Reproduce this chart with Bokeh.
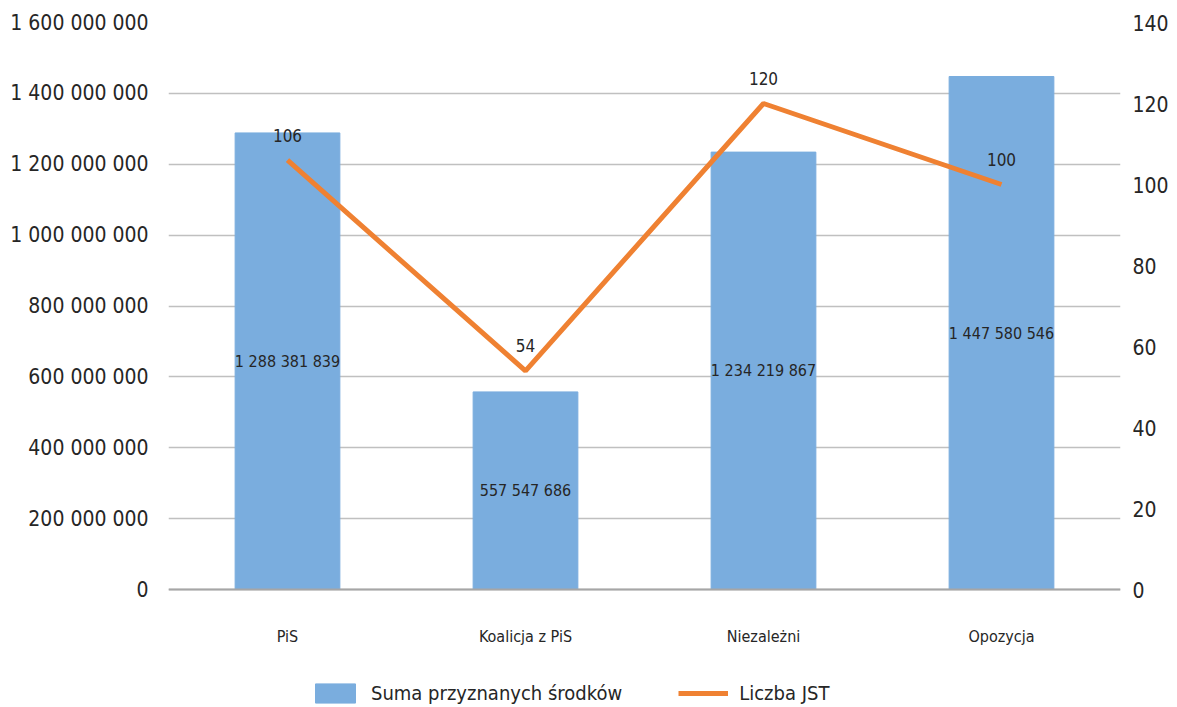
from bokeh.plotting import figure
from bokeh.models import (Range1d, LinearAxis, FixedTicker, CustomJSTickFormatter,
                          ColumnDataSource, Legend, LegendItem, FactorRange, Span)
from bokeh.core.properties import value
from bokeh.embed import file_html
from bokeh.resources import INLINE

categories = ["PiS", "Koalicja z PiS", "Niezależni", "Opozycja"]
sums = [1288381839, 557547686, 1234219867, 1447580546]
counts = [106, 54, 120, 100]
left_ticks = [0, 200000000, 400000000, 600000000, 800000000, 1000000000,
              1200000000, 1400000000, 1600000000]
right_ticks = [0, 20, 40, 60, 80, 100, 120, 140]
series_names = ["Suma przyznanych środków", "Liczba JST"]

FONT = "'DejaVu Sans Condensed', Roboto"
TXT = "#262626"
BAR = "#7aadde"
LINE = "#ef8132"
GRID = "#c0c0c0"

# layout (pixels): plot area from top=22 down to the zero line at 589,
# the frame continues below the zero line to hold category labels + legend
W = 1177
H = 707
TOP = 22
ZERO = 589
above = ZERO - TOP
below = H - ZERO
LMAX = left_ticks[-1]
RMAX = right_ticks[-1]

def fmt(v):
    return f"{v:,}".replace(",", " ")

src = ColumnDataSource(dict(
    cat=categories,
    sums=sums,
    half=[s / 2 for s in sums],
    sum_lbl=[fmt(s) for s in sums],
    counts=counts,
    cnt_lbl=[str(c) for c in counts],
    zero=[0] * len(categories),
))

p = figure(width=W, height=H, x_range=FactorRange(*categories),
           y_range=Range1d(-LMAX * below / above, LMAX), output_backend="svg",
           toolbar_location=None, y_axis_location=None,
           min_border_left=168, min_border_right=57, min_border_top=TOP,
           min_border_bottom=0)
p.extra_y_ranges = {"right": Range1d(-RMAX * below / above, RMAX)}
p.outline_line_color = None
p.background_fill_color = "white"
p.border_fill_color = "white"
p.x_range.range_padding = 0
p.xaxis.visible = False

p.ygrid.ticker = FixedTicker(ticks=left_ticks)
p.ygrid.grid_line_color = GRID
p.ygrid.grid_line_width = 1.5
p.xgrid.grid_line_color = None

bars = p.vbar(x="cat", top="sums", width=0.44, source=src, color=BAR)
p.add_layout(Span(location=0, dimension="width", line_color="#a6a6a6",
                  line_width=2))
line = p.line(x="cat", y="counts", source=src, y_range_name="right",
              color=LINE, line_width=5)

p.text(x="cat", y="half", text="sum_lbl", source=src, text_align="center",
       text_baseline="middle", text_font=value(FONT), text_font_size="16px",
       text_color=TXT)
p.text(x="cat", y="counts", text="cnt_lbl", source=src, y_range_name="right",
       text_align="center", text_baseline="middle", y_offset=-25,
       text_font=value(FONT), text_font_size="17px", text_color=TXT)
# category labels under the zero line
p.text(x="cat", y="zero", text="cat", source=src, text_align="center",
       text_baseline="middle", y_offset=47,
       text_font=value(FONT), text_font_size="16px", text_color=TXT)

fmt_js = CustomJSTickFormatter(code="return Math.round(tick).toString().replace(/\\B(?=(\\d{3})+(?!\\d))/g, ' ');")

la = LinearAxis(ticker=FixedTicker(ticks=left_ticks), formatter=fmt_js)
ra = LinearAxis(y_range_name="right", ticker=FixedTicker(ticks=right_ticks))
for ax, so in ((la, 20), (ra, 12)):
    ax.axis_line_color = None
    ax.major_tick_line_color = None
    ax.minor_tick_line_color = None
    ax.major_tick_out = 0
    ax.major_tick_in = 0
    ax.minor_tick_out = 0
    ax.major_label_standoff = so
    ax.major_label_text_font = FONT
    ax.major_label_text_font_size = "21px"
    ax.major_label_text_color = TXT
p.add_layout(la, "left")
p.add_layout(ra, "right")

legend = Legend(items=[LegendItem(label=series_names[0], renderers=[bars]),
                       LegendItem(label=series_names[1], renderers=[line])],
                orientation="horizontal", location=(142, 2),
                glyph_width=50, glyph_height=24, label_standoff=11, spacing=56,
                padding=0, margin=0, border_line_color=None,
                background_fill_alpha=0,
                label_text_font=FONT, label_text_font_size="20px",
                label_text_color=TXT)
p.add_layout(legend, "center")

open("out.html", "w").write(file_html(p, INLINE))
